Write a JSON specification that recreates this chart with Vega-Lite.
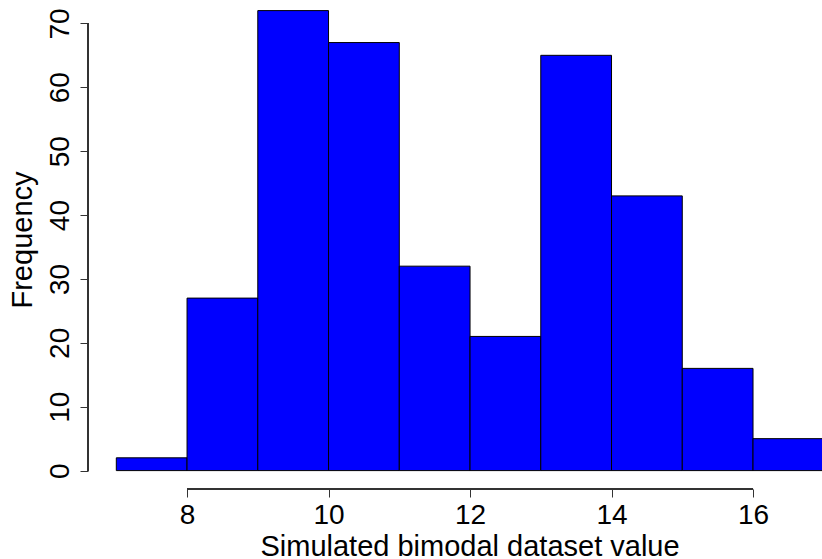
{
  "$schema": "https://vega.github.io/schema/vega-lite/v6.json",
  "width": 734,
  "height": 489,
  "autosize": {"type": "none"},
  "padding": {"left": 88, "top": 0, "right": 0, "bottom": 70},
  "background": "white",
  "config": {
    "view": {"stroke": null},
    "font": "Liberation Sans",
    "axis": {
      "labelFont": "Liberation Sans",
      "titleFont": "Liberation Sans",
      "labelFontSize": 28,
      "titleFontSize": 29,
      "labelColor": "black",
      "titleColor": "black",
      "titleFontWeight": "normal",
      "tickColor": "#333333",
      "tickSize": 8,
      "domain": false,
      "grid": false
    }
  },
  "data": {
    "values": [
      {"bin_start": 7, "bin_end": 8, "count": 2},
      {"bin_start": 8, "bin_end": 9, "count": 27},
      {"bin_start": 9, "bin_end": 10, "count": 72},
      {"bin_start": 10, "bin_end": 11, "count": 67},
      {"bin_start": 11, "bin_end": 12, "count": 32},
      {"bin_start": 12, "bin_end": 13, "count": 21},
      {"bin_start": 13, "bin_end": 14, "count": 65},
      {"bin_start": 14, "bin_end": 15, "count": 43},
      {"bin_start": 15, "bin_end": 16, "count": 16},
      {"bin_start": 16, "bin_end": 17, "count": 5}
    ]
  },
  "layer": [
    {
      "mark": {"type": "bar", "fill": "#0000FF", "stroke": "black", "strokeWidth": 1, "clip": true},
      "encoding": {
        "x": {
          "field": "bin_start",
          "type": "quantitative",
          "scale": {"domain": [6.6, 16.975], "nice": false, "zero": false},
          "axis": {
            "values": [8, 10, 12, 14, 16],
            "format": "d",
            "labelPadding": 4,
            "labelBaseline": "top",
            "title": "Simulated bimodal dataset value",
            "titleX": 381.5,
            "titleY": 66,
            "titleAlign": "center",
            "titleBaseline": "alphabetic",
            "labelFlush": false,
            "labelOverlap": false
          }
        },
        "x2": {"field": "bin_end"},
        "y": {
          "field": "count",
          "type": "quantitative",
          "scale": {"domain": [-2.88, 73.66], "nice": false, "zero": false},
          "axis": {
            "values": [0, 10, 20, 30, 40, 50, 60, 70],
            "format": "d",
            "labelAngle": -90,
            "labelAlign": "center",
            "labelBaseline": "alphabetic",
            "labelPadding": 12,
            "title": "Frequency",
            "titleX": -57,
            "titleY": 239.5,
            "titleAngle": -90,
            "titleAlign": "center",
            "titleBaseline": "alphabetic",
            "labelFlush": false,
            "labelOverlap": false
          }
        },
        "y2": {"datum": 0}
      }
    },
    {
      "mark": {"type": "rule", "color": "#333333", "strokeWidth": 1},
      "encoding": {
        "x": {"datum": 6.6, "type": "quantitative"},
        "y": {"datum": 0, "type": "quantitative"},
        "y2": {"datum": 70}
      }
    },
    {
      "mark": {"type": "rule", "color": "#333333", "strokeWidth": 1},
      "encoding": {
        "x": {"datum": 8, "type": "quantitative"},
        "x2": {"datum": 16},
        "y": {"datum": -2.88, "type": "quantitative"}
      }
    }
  ]
}
